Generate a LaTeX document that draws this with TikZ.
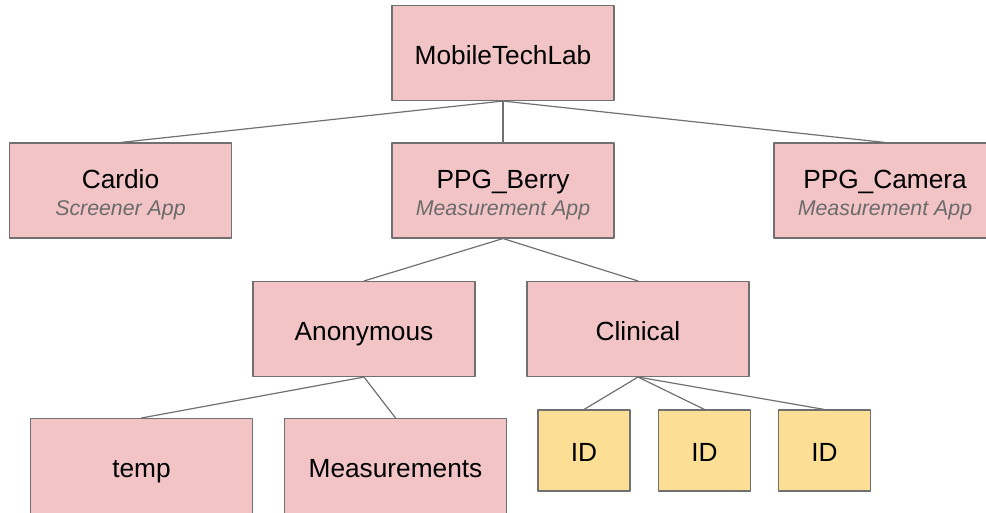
\documentclass[tikz,border=0pt]{standalone}
\usepackage{fontspec}
\setmainfont{Liberation Sans}
\definecolor{boxpink}{HTML}{F2C4C6}
\definecolor{idyellow}{HTML}{FCDF94}
\definecolor{edgegray}{HTML}{707070}
\definecolor{subgray}{HTML}{6B6B6B}
\tikzset{
  every picture/.style={line join=round, line cap=round},
  box/.style={draw=edgegray, line width=0.8pt, fill=boxpink, minimum width=166.5pt,
    minimum height=71.25pt, inner sep=0pt, align=center, text height=16.5pt, text depth=0pt,
    font=\fontsize{19.7}{19.7}\selectfont},
  app/.style={box, text height=36.8pt},
  idbox/.style={box, fill=idyellow, minimum width=69pt, minimum height=60.75pt},
  link/.style={draw=edgegray, line width=0.9pt},
}
\newcommand{\apptype}[1]{{\color{subgray}\itshape\fontsize{16}{19}\selectfont #1}}

\begin{document}
\begin{tikzpicture}[x=0.75pt,y=-0.75pt]
\useasboundingbox (0,0) rectangle (986,512);
\clip (0,0) rectangle (986,512);
% top level
\node[box] (lab) at (503,53) {MobileTechLab};
% apps
\node[app] (cardio) at (120.5,190.5) {Cardio\\\apptype{Screener App}};
\node[app] (berry) at (503,190.5) {PPG\_Berry\\\apptype{Measurement App}};
\node[app] (camera) at (885,190.5) {PPG\_Camera\\\apptype{Measurement App}};
% data groups
\node[box] (anon) at (364,329) {Anonymous};
\node[box] (clinical) at (638,329) {Clinical};
\node[box] (temp) at (141.5,466) {temp};
\node[box] (meas) at (395.5,466) {Measurements};
% ids
\node[idbox] (id1) at (584,450.5) {ID};
\node[idbox] (id2) at (704.5,450.5) {ID};
\node[idbox] (id3) at (824.5,450.5) {ID};
% links
\foreach \c in {cardio,berry,camera} \draw[link] (lab.south) -- (\c.north);
\foreach \c in {anon,clinical} \draw[link] (berry.south) -- (\c.north);
\foreach \c in {temp,meas} \draw[link] (anon.south) -- (\c.north);
\foreach \c in {id1,id2,id3} \draw[link] (clinical.south) -- (\c.north);
\end{tikzpicture}
\end{document}
